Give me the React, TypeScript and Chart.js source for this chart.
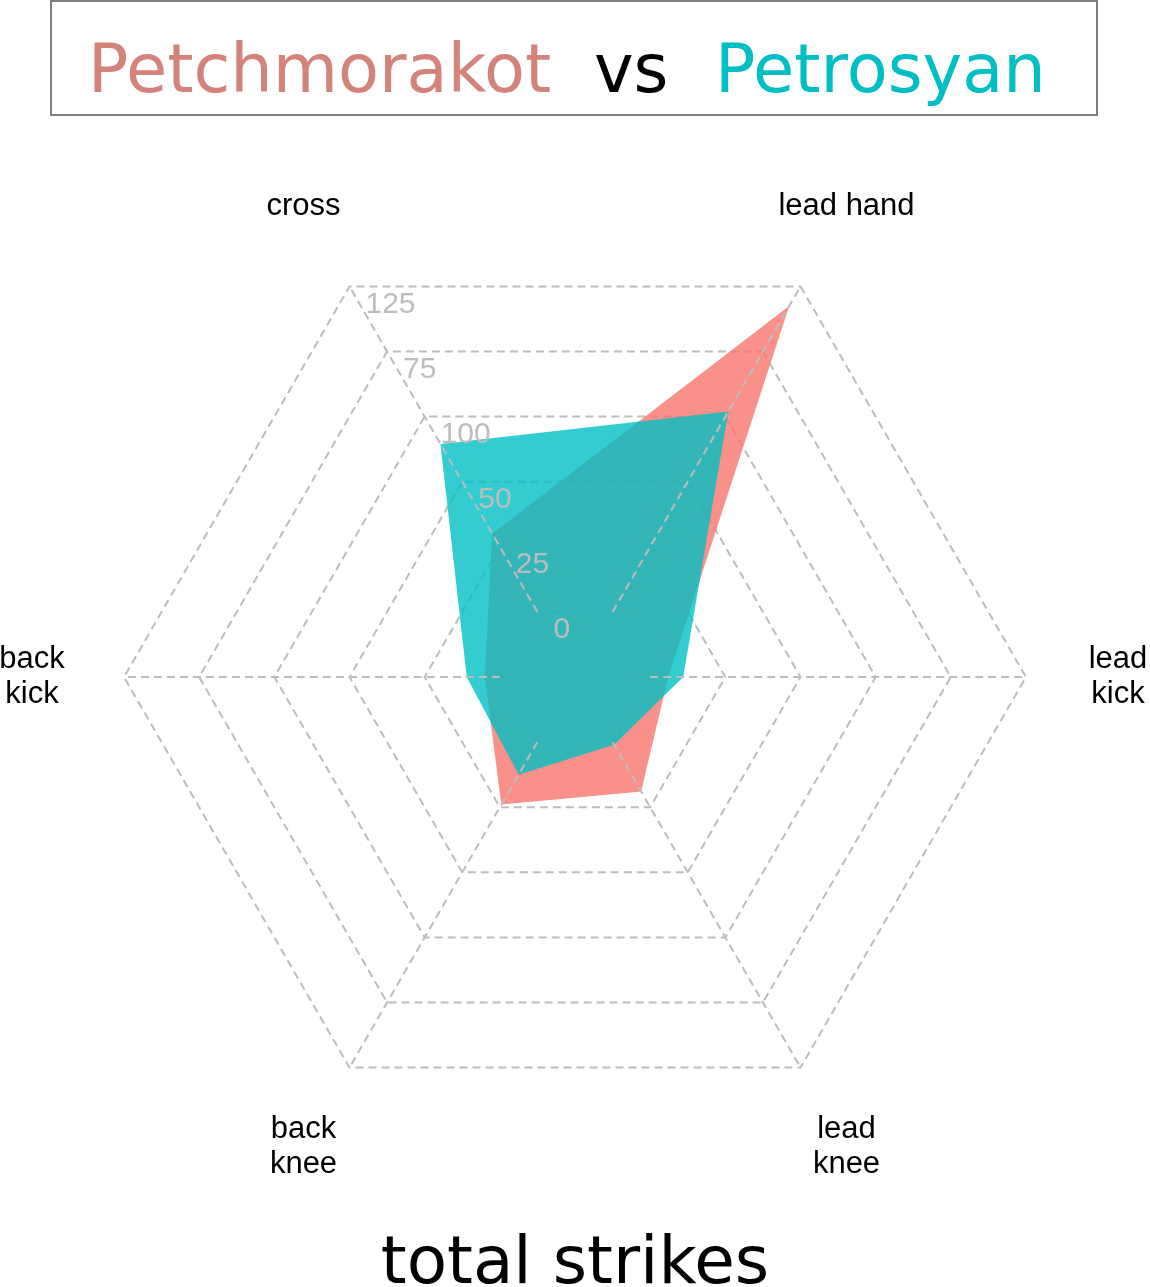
import { useEffect, useRef } from "react";
import { Chart, registerables } from "chart.js";

Chart.register(...registerables);

// axes, clockwise from the upper right spoke
const axisLabels: (string | string[])[] = [
  "lead hand",
  ["lead", "kick"],
  ["lead", "knee"],
  ["back", "knee"],
  ["back", "kick"],
  "cross",
];

const petchmorakot = [117.5, 6, 19, 24, 5, 30];
const petrosyan = [77, 11, 1, 12.5, 11, 64.5];

// ring values (center is -25) and the labels printed on them
const tickValues = [0, 25, 50, 75, 100, 125];
const tickLabels = ["0", "25", "50", "100", "75", "125"];

const GRID = "#bdbdbd";
const DASH = [8, 5];

const overlay = {
  id: "radarOverlay",
  afterDraw(chart: any) {
    const scale = chart.scales.r;
    const ctx = chart.ctx;
    const n = axisLabels.length;
    ctx.save();

    // spokes, only between the inner and outer ring
    ctx.strokeStyle = GRID;
    ctx.lineWidth = 2;
    ctx.setLineDash(DASH);
    const inner = scale.getDistanceFromCenterForValue(tickValues[0]);
    const outer = scale.getDistanceFromCenterForValue(scale.max);
    for (let i = 0; i < n; i++) {
      const a = scale.getPointPosition(i, inner);
      const b = scale.getPointPosition(i, outer);
      ctx.beginPath();
      ctx.moveTo(a.x, a.y);
      ctx.lineTo(b.x, b.y);
      ctx.stroke();
    }
    ctx.setLineDash([]);

    // tick labels along the "cross" spoke
    ctx.font = '30px "Liberation Sans", Arial, sans-serif';
    ctx.fillStyle = "#bdbdbd";
    ctx.textAlign = "left";
    ctx.textBaseline = "middle";
    tickValues.forEach((v, k) => {
      const p = scale.getPointPosition(n - 1, scale.getDistanceFromCenterForValue(v));
      ctx.fillText(tickLabels[k], p.x + 16, p.y + 18);
    });

    // axis labels
    ctx.font = '31px "Liberation Sans", Arial, sans-serif';
    ctx.fillStyle = "#000";
    ctx.textAlign = "center";
    axisLabels.forEach((lab, i) => {
      const lines = Array.isArray(lab) ? lab : [lab];
      const p = scale.getPointPosition(i, scale.drawingArea * 1.204);
      lines.forEach((t, j) => {
        ctx.fillText(t, p.x, p.y + (j - (lines.length - 1) / 2) * 35);
      });
    });
    ctx.restore();
  },
};

const RadarChart = () => {
  const canvasRef = useRef<HTMLCanvasElement>(null);

  useEffect(() => {
    if (!canvasRef.current) return;

    const chart = new Chart(canvasRef.current, {
      type: "radar",
      data: {
        labels: axisLabels,
        datasets: [
          {
            label: "Petchmorakot",
            data: petchmorakot,
            backgroundColor: "rgba(248, 118, 109, 0.8)",
            borderWidth: 0,
            pointRadius: 0,
            fill: "start",
            order: 1,
          },
          {
            label: "Petrosyan",
            data: petrosyan,
            backgroundColor: "rgba(0, 191, 196, 0.8)",
            borderWidth: 0,
            pointRadius: 0,
            fill: "start",
            order: 0,
          },
        ],
      },
      options: {
        responsive: false,
        animation: false,
        events: [],
        layout: { padding: { left: 124, right: 124, top: 226, bottom: 159 } },
        plugins: {
          legend: { display: false },
          tooltip: { enabled: false },
        },
        scales: {
          r: {
            min: -25,
            max: 125,
            startAngle: 30,
            z: 1,
            ticks: { display: false, stepSize: 25 },
            pointLabels: { display: false },
            angleLines: { display: false },
            grid: { circular: false, color: GRID, lineWidth: 2 },
            border: { dash: DASH },
          },
        },
      },
      plugins: [overlay],
    } as any);

    return () => {
      chart.destroy();
    };
  }, []);

  return (
    <canvas
      ref={canvasRef}
      width={1150}
      height={1287}
      style={{ position: "absolute", left: 0, top: 0, width: 1150, height: 1287 }}
    />
  );
};

export default function App() {
  return (
    <div
      style={{
        position: "absolute",
        left: 0,
        top: 0,
        width: 1150,
        height: 1287,
        background: "#fff",
        overflow: "hidden",
        fontFamily: '"DejaVu Sans", sans-serif',
      }}
    >
      <RadarChart />
      <div
        style={{
          position: "absolute",
          left: 50,
          top: 0,
          width: 1048,
          height: 116,
          border: "2px solid #7f7f7f",
          boxSizing: "border-box",
        }}
      />
      <div
        style={{
          position: "absolute",
          left: 88,
          top: 36,
          fontSize: 67,
          lineHeight: "67px",
          whiteSpace: "pre",
        }}
      >
        <span style={{ color: "#d4837b" }}>Petchmorakot</span>
        <span style={{ color: "#000" }}>{"  vs  "}</span>
        <span style={{ color: "#00bfc4", marginLeft: 4 }}>Petrosyan</span>
      </div>
      <div
        style={{
          position: "absolute",
          left: 0,
          width: 1150,
          top: 1228,
          textAlign: "center",
          fontSize: 66,
          lineHeight: "66px",
          color: "#000",
          whiteSpace: "pre",
        }}
      >
        total strikes
      </div>
    </div>
  );
}
